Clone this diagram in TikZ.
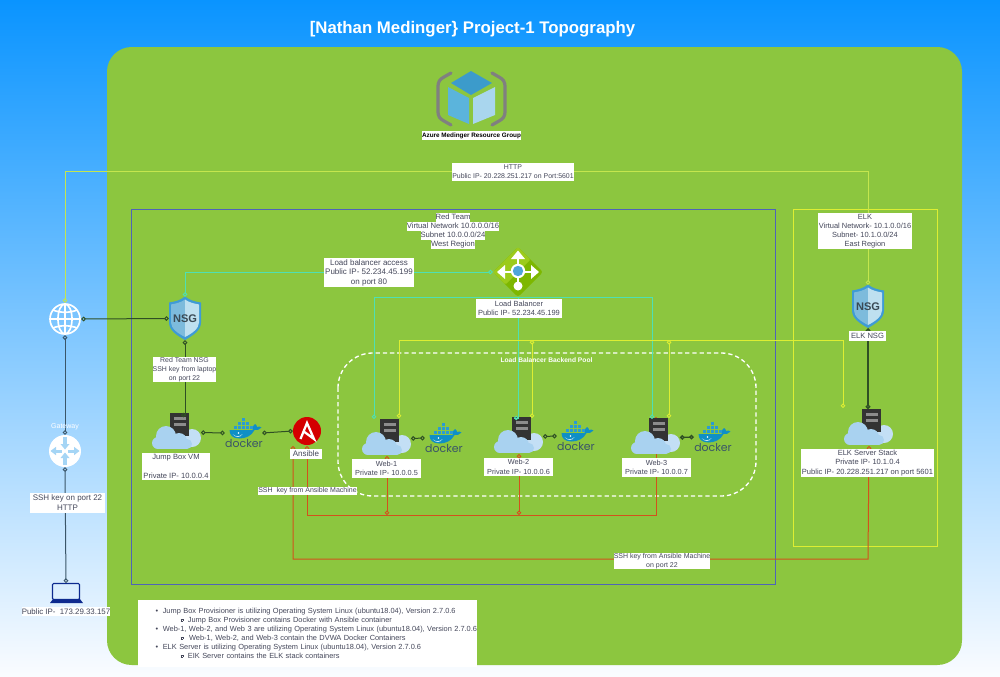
\documentclass[tikz,border=0pt]{standalone}
\usepackage{fontspec}
\setmainfont{Liberation Sans}
\newfontfamily\dockerfont{Poppins}
\usetikzlibrary{arrows.meta,calc}
\pgfdeclarelayer{base}
\pgfdeclarelayer{under}
\pgfsetlayers{base,under,main}
\definecolor{panelgreen}{HTML}{8CC63F}
\definecolor{txt}{HTML}{44475A}
\definecolor{redbox}{HTML}{4F63B8}
\definecolor{yel}{HTML}{DDEE33}
\definecolor{teal}{HTML}{4FE0B4}
\definecolor{httpc}{HTML}{C4E64E}
\definecolor{org}{HTML}{D2521C}
\definecolor{darkg}{HTML}{2F4F24}
\definecolor{darkb}{HTML}{3A5568}
\definecolor{whale}{HTML}{0F8FC6}
\definecolor{crate}{HTML}{2A9BD3}
\definecolor{lightcloud}{HTML}{C3DFF5}
\definecolor{cloudblue}{HTML}{A9D2F0}
\definecolor{shieldb}{HTML}{3F9BD5}
\definecolor{shieldl}{HTML}{7DBBDC}
\definecolor{shieldr}{HTML}{BEE0F0}
\definecolor{nsgtxt}{HTML}{3A4A55}
\definecolor{skytop}{HTML}{0A94FF}
\definecolor{skybot}{HTML}{FAFCFF}
\definecolor{cube1}{HTML}{3C9BCB}
\definecolor{cube2}{HTML}{5BB4DC}
\definecolor{cube3}{HTML}{A9D6EE}
\definecolor{gwarrow}{HTML}{A5D5F5}
\definecolor{lapblue}{HTML}{0D2A8F}
\definecolor{lbdark}{HTML}{7DB700}
\definecolor{lblight}{HTML}{9CCB1B}
\definecolor{lbcore}{HTML}{4FA5D8}
\definecolor{ansred}{HTML}{D40000}
\newcommand{\pxu}{0.75pt}
\newcommand{\hlrow}[1]{{\fboxsep=0pt\colorbox{white}{\rule[-1.75pt]{0pt}{6.75pt}#1}}}
\newcommand{\subb}{\raisebox{0.9pt}{\fboxsep=0pt\fboxrule=0.3pt\fbox{\rule{0pt}{1.4pt}\hspace{1.4pt}}}}
\newcommand{\bulA}[1]{\hspace*{13.2pt}\rlap{\makebox[5.4pt][l]{\textbullet}#1}}
\newcommand{\bulB}[1]{\hspace*{32pt}\rlap{\makebox[5.4pt][l]{\subb}#1}}
\tikzset{
  x=0.75pt,y=-0.75pt,
  lbl/.style 2 args={fill=white,text=txt,font=\fontsize{5.25}{6.6}\selectfont,align=center,inner sep=0pt,
    minimum width=#1*\pxu,minimum height=#2*\pxu},
  fs/.style 2 args={font=\fontsize{#1}{#2}\selectfont},
  wire/.style={line width=0.75pt},
  tipboth/.style={arrows={Circle[open,length=3.4pt]-Circle[open,length=3.4pt]}},
  tipend/.style={arrows={-Circle[open,length=3.4pt]}},
  tipstart/.style={arrows={Circle[open,length=3.4pt]-}},
  srvbox/.style={fill=black!80,inner sep=0pt,minimum width=19*\pxu,minimum height=23*\pxu,anchor=north west},
  icon/.style={inner sep=0pt,minimum width=#1*\pxu,minimum height=#1*\pxu},
}
% server with cloud: name, left, top of the server
\newcommand{\serverat}[3]{%
  \fill[lightcloud] (#2+22,#3+25) circle[radius=9*\pxu];
  \node[srvbox] (#1) at (#2,#3) {};
  \fill[black!45] (#2+3.5,#3+4) rectangle (#2+16,#3+7);
  \fill[black!45] (#2+3.5,#3+9.5) rectangle (#2+16,#3+12.5);
  \fill[cloudblue] (#2-12,#3+30) circle[radius=6*\pxu] (#2-4,#3+23) circle[radius=10*\pxu]
     (#2+9,#3+28) circle[radius=8*\pxu] (#2+17,#3+31) circle[radius=5*\pxu];
  \fill[cloudblue] (#2-12,#3+28) rectangle (#2+17,#3+36);
  \coordinate (#1r) at (#2+31,#3+19.5);
  \coordinate (#1b) at (#2+7,#3+37);
}
% docker logo: name, centre x, connection y
\newcommand{\dockerat}[3]{%
  \node[inner sep=0pt,minimum width=37*\pxu,minimum height=4*\pxu] (#1) at (#2,#3) {};
  \begin{scope}[shift={(#2,#3)}]
    \fill[whale] (-14,-3) -- (9,-3) .. controls (9,-7) and (11,-9) .. (11.5,-9)
      .. controls (13,-8) and (13.5,-7) .. (13.5,-6) .. controls (15,-7) and (17,-6.5) .. (18,-5.5)
      .. controls (16,-3) and (13,-2.5) .. (11,-3) .. controls (8,3) and (2,5.5) .. (-4,5.5)
      .. controls (-11,5.5) and (-14,2) .. (-14,-3) -- cycle;
    \fill[white!75!whale] (-11,1) .. controls (-8,4) and (-4,4) .. (-1,1) .. controls (-3,5) and (-8,5) .. (-11,1) -- cycle;
    \fill[white] (-5,0) circle[radius=0.9*\pxu];
    \foreach \cx in {-10,-6,-2,2,6}{\fill[crate] (\cx,-7) rectangle +(3.4,3.4);}
    \foreach \cx in {-6,-2,2}{\fill[crate] (\cx,-11) rectangle +(3.4,3.4);}
    \fill[crate] (-2,-15) rectangle +(3.4,3.4);
    \node[text=darkb,inner sep=0pt,font=\dockerfont\fontsize{8.2}{8}\selectfont] (#1t) at (0.5,10.5) {docker};
  \end{scope}
}
% shield: name, centre x, centre y
\newcommand{\shieldat}[3]{%
  \begin{scope}[shift={(#2,#3)}]
    \fill[shieldb] (0,-22) .. controls (-5,-18) and (-10,-17) .. (-16,-16) -- (-16,4)
      .. controls (-16,12) and (-8,17) .. (0,21.5) .. controls (8,17) and (16,12) .. (16,4)
      -- (16,-16) .. controls (10,-17) and (5,-18) .. (0,-22) -- cycle;
    \fill[shieldl] (0,-19) .. controls (-4,-16) and (-9,-15) .. (-14,-14) -- (-14,4)
      .. controls (-14,10) and (-7,15) .. (0,18.5) -- cycle;
    \fill[shieldr] (0,-19) .. controls (4,-16) and (9,-15) .. (14,-14) -- (14,4)
      .. controls (14,10) and (7,15) .. (0,18.5) -- cycle;
  \end{scope}
  \node[inner sep=0pt,minimum width=32*\pxu,minimum height=43*\pxu,text=nsgtxt,font=\fontsize{8.3}{8}\selectfont\bfseries] (#1) at (#2,#3) {NSG};
}
\begin{document}
\begin{tikzpicture}
\useasboundingbox (0,0) rectangle (1000,676);
\begin{pgfonlayer}{base}
  \shade[top color=skytop,bottom color=skybot] (0,0) rectangle (1000,676);
  \fill[panelgreen,rounded corners=18.5pt] (107,47) rectangle (962,665);
  \draw[redbox,line width=0.75pt] (131.5,209.5) rectangle (775.5,584.5);
  \draw[yel,line width=0.75pt] (793.5,209.5) rectangle (937.5,546.5);
  \draw[white,line width=1pt,dash pattern=on 3.2pt off 2.2pt,rounded corners=26pt] (338,353) rectangle (756,496);
\end{pgfonlayer}

\node[text=white,font=\fontsize{12.6}{14}\selectfont\bfseries,inner sep=0pt] (title) at (472.5,29) {[Nathan Medinger\} Project-1 Topography};

% resource group icon
\fill[cube1] (451,83) -- (471,71) -- (492,83) -- (471,95) -- cycle;
\fill[cube2] (448,87) -- (469,98) -- (469,124) -- (448,115) -- cycle;
\fill[cube3] (495,87) -- (473,98) -- (473,124) -- (495,115) -- cycle;
\draw[black!50,line width=2.4pt,line cap=round] (451,73) -- (444,77) .. controls (440,79) and (438,82) .. (438,86) -- (438,112) .. controls (438,116) and (440,119) .. (444,121) -- (451,125);
\draw[black!50,line width=2.4pt,line cap=round] (492,73) -- (499,77) .. controls (503,79) and (505,82) .. (505,86) -- (505,112) .. controls (505,116) and (503,119) .. (499,121) -- (492,125);
\node[fill=white,text=black,inner sep=0pt,minimum width=97*\pxu,minimum height=9*\pxu,font=\fontsize{4.75}{6}\selectfont\bfseries] (rg) at (471.5,135.5) {Azure Medinger Resource Group};

% globe
\node[circle,icon=32] (globe) at (65,319) {};
\begin{scope}[white,line width=1.25pt]
  \draw (65,319) circle[radius=15*\pxu];
  \draw (65,319) ellipse[x radius=7*\pxu,y radius=15*\pxu];
  \draw (65,304) -- (65,334) (50,319) -- (80,319);
  \draw (53,310) .. controls (60,313) and (70,313) .. (77,310);
  \draw (53,328) .. controls (60,325) and (70,325) .. (77,328);
\end{scope}

% gateway
\node[circle,icon=32,fill=white] (gw) at (65,451) {};
\begin{scope}[shift={(65,451)}]
  \fill[gwarrow] (-1.8,-14) rectangle (1.8,-7); \fill[gwarrow] (-4.5,-7) -- (4.5,-7) -- (0,-1.5) -- cycle;
  \fill[gwarrow] (-1.8,14) rectangle (1.8,7); \fill[gwarrow] (-4.5,7) -- (4.5,7) -- (0,1.5) -- cycle;
  \fill[gwarrow] (-3,-1.5) rectangle (-9,1.5); \fill[gwarrow] (-9,-4.2) -- (-9,4.2) -- (-14.5,0) -- cycle;
  \fill[gwarrow] (3,-1.5) rectangle (9,1.5); \fill[gwarrow] (9,-4.2) -- (9,4.2) -- (14.5,0) -- cycle;
\end{scope}

% laptop
\node[draw=lapblue,line width=0.8pt,rounded corners=0.8pt,inner sep=0pt,minimum width=27*\pxu,minimum height=16*\pxu] (lap) at (66,591.5) {};
\fill[lapblue] (50,603) -- (53,599) -- (80,599) -- (83,603) -- cycle;

% shields
\shieldat{nsgr}{185}{318.5}
\shieldat{nsge}{868}{306.5}

% load balancer
\node[icon=50] (lb) at (518,272) {};
\fill[lbdark,rounded corners=2pt] (518,247) -- (543,272) -- (518,297) -- (493,272) -- cycle;
\fill[lblight,rounded corners=1pt] (518,247) -- (493,272) -- (505.5,284.5) -- (530.5,259.5) -- cycle;
\draw[white,line width=1.5pt] (518,272) -- (518,254) (518,272) -- (500,272) (518,272) -- (536,272) (518,272) -- (518,286);
\fill[white] (518,250.5) -- (525,259) -- (511,259) -- cycle;
\fill[white] (497,272) -- (505,265) -- (505,279) -- cycle;
\fill[white] (539,272) -- (531,265) -- (531,279) -- cycle;
\fill[white] (518,286) circle[radius=4.5*\pxu];
\fill[white] (518,271) circle[radius=7.2*\pxu];
\fill[lbcore] (518,271) circle[radius=5.2*\pxu];

% servers
\serverat{jump}{170}{413}
\serverat{wa}{380}{419}
\serverat{wb}{512}{417}
\serverat{wc}{649}{418}
\serverat{es}{862}{409}

% dockers
\dockerat{dj}{243.5}{433}
\dockerat{da}{443.5}{438}
\dockerat{db}{575.5}{436}
\dockerat{dc}{712.5}{437}

% ansible
\node[circle,icon=28,fill=ansred] (an) at (307,431) {};
\draw[white,line width=1.7pt,line join=miter] (300.5,439) -- (307,423) -- (314,439) -- (304.5,432);

% free ends and corners
\coordinate (httptop) at (868,171);
\coordinate (anl) at (293,446);
\coordinate (ssha) at (868,559);
\coordinate (sshb) at (656,515);
\coordinate (wcup) at (656,417);
\coordinate (tealw) at (374,419);
\coordinate (tealc) at (652,419);
\coordinate (yela) at (399,418);
\coordinate (yelt) at (843,340);
\coordinate (yele) at (843,408);
\coordinate (yelb) at (532,418);
\coordinate (yelc) at (669,418);
\coordinate (jb) at (532,340);
\coordinate (jc) at (669,340);
\coordinate (jumptop) at (181,415);
\coordinate (ant) at (307,446);
\coordinate (tealb) at (518.5,418);

% connectors
\begin{pgfonlayer}{under}
  \draw[org,wire,tipboth] (anl) |- (ssha) -- (esb);
  \draw[org,wire,tipboth] (ant) |- (sshb) -- (wcup);
  \draw[org,wire,tipboth] (wab) -- (wab |- sshb);
  \draw[org,wire,tipboth] (wbb) -- (wbb |- sshb);
\end{pgfonlayer}
\draw[httpc,wire,tipboth] (globe.north) |- (httptop) -- (nsge.north);
\draw[darkg,wire,tipboth] (globe.east) -- (nsgr.west);
\draw[darkb,wire,tipboth] (globe.south) -- (gw.north);
\draw[darkb,wire,tipboth] (gw.south) -- (lap.north);
\draw[darkg,wire,tipboth] (nsgr.south) -- (nsgr.south |- jumptop) -- (jumptop);
\draw[darkg,wire,tipboth] (jumpr) -- (dj.west);
\draw[darkg,wire,tipboth] (dj.east) -- (an.west);
\draw[darkg,wire,tipboth] (war) -- (da.west);
\draw[darkg,wire,tipboth] (wbr) -- (db.west);
\draw[darkg,line width=1pt,tipboth] (wcr) -- (dc.west);
\draw[darkg,line width=1pt,tipboth] (nsge.south) -- (nsge.south |- es.north);
\draw[teal,wire,tipboth] (nsgr.north) |- (lb.west);
\draw[teal,wire,tipend] (lb.south) -| (tealw);
\draw[teal,wire,tipend] (lb.south) -| (tealc);
\draw[teal,wire,tipend] (lb.south) -- (lb.south |- tealb) -- (tealb);
\draw[yel,wire,tipboth] (yela) |- (yelt) -- (yele);
\draw[yel,wire,tipboth] (jb) -- (yelb);
\draw[yel,wire,tipboth] (jc) -- (yelc);

% labels
\node[text=white,inner sep=0pt,font=\fontsize{5.25}{6}\selectfont] (gwt) at (65,427) {Gateway};
\node[lbl={120}{18},fs={5.2}{6.6}] (lhttp) at (513,172) {HTTP\\Public IP- 20.228.251.217 on Port:5601};
\node[text=txt,inner sep=0pt,align=center,font=\fontsize{5.75}{6.75}\selectfont] (lred) at (453,230.5) {\hlrow{Red Team}\\\hlrow{Virtual Network 10.0.0.0/16}\\\hlrow{Subnet 10.0.0.0/24}\\\hlrow{West Region}};
\node[lbl={90}{29},fs={6}{7.1}] (laccess) at (369,272.5) {Load balancer access\\Public IP- 52.234.45.199\\on port 80};
\node[lbl={86}{19},fs={5.6}{6.75}] (llb) at (519,308.5) {Load Balancer\\Public IP- 52.234.45.199};
\node[lbl={94}{36},fs={5.6}{6.75}] (lelk) at (865,231) {ELK\\Virtual Network- 10.1.0.0/16\\Subnet- 10.1.0.0/24\\East Region};
\node[lbl={37}{10},fs={5.7}{6.6}] (lelknsg) at (867.5,336) {ELK NSG};
\node[lbl={63}{25},fs={5.2}{6.6}] (lnsg) at (184.5,369.5) {Red Team NSG\\SSH key from laptop\\on port 22};
\node[lbl={68}{27},fs={5.7}{6.6}] (ljump) at (176,466.5) {Jump Box VM\\[2.2pt]\\[-0.6pt]Private IP- 10.0.0.4};
\node[lbl={32}{10},fs={6}{6.6}] (lans) at (306,454) {Ansible};
\node[lbl={75}{20},fs={6}{7.5}] (lgw) at (67.5,503) {SSH key on port 22\\HTTP};
\node[lbl={97}{8.5}] (lssh) at (307.5,491) {SSH\ \ key from Ansible Machine};
\node[lbl={96}{16.5}] (lssh2) at (662,561) {SSH key from Ansible Machine\\on port 22};
\node[lbl={69}{19},fs={5.5}{7}] (lwa) at (386.5,468.5) {Web-1\\Private IP- 10.0.0.5};
\node[lbl={69}{18},fs={5.5}{7}] (lwb) at (518.5,467) {Web-2\\Private IP- 10.0.0.6};
\node[lbl={69}{19},fs={5.5}{7}] (lwc) at (656.5,467.5) {Web-3\\Private IP- 10.0.0.7};
\node[lbl={133}{28},fs={5.65}{6.9}] (les) at (867.5,463) {ELK Server Stack\\Private IP- 10.1.0.4\\Public IP- 20.228.251.217 on port 5601};
\node[lbl={88}{9},fs={5.9}{6.6}] (llap) at (66,611.5) {Public IP-\ \ 173.29.33.157};
\node[text=white,inner sep=0pt,font=\fontsize{5}{6}\selectfont\bfseries] (lpool) at (546.5,360.5) {Load Balancer Backend Pool};
\node[fill=white,text=txt,inner sep=0pt,minimum height=67*\pxu,text width=339*\pxu,align=left,font=\fontsize{5.55}{6.75}\selectfont] (lnotes) at (307.5,633) {%
\bulA{Jump Box Provisioner is utilizing Operating System Linux (ubuntu18.04), Version 2.7.0.6}\\
\bulB{Jump Box Provisioner contains Docker with Ansible container}\\
\bulA{Web-1, Web-2, and Web 3 are utilizing Operating System Linux (ubuntu18.04), Version 2.7.0.6}\\
\bulB{\,Web-1, Web-2, and Web-3 contain the DVWA Docker Containers}\\
\bulA{ELK Server is utilizing Operating System Linux (ubuntu18.04), Version 2.7.0.6}\\
\bulB{EIK Server contains the ELK stack containers}};
\end{tikzpicture}
\end{document}
